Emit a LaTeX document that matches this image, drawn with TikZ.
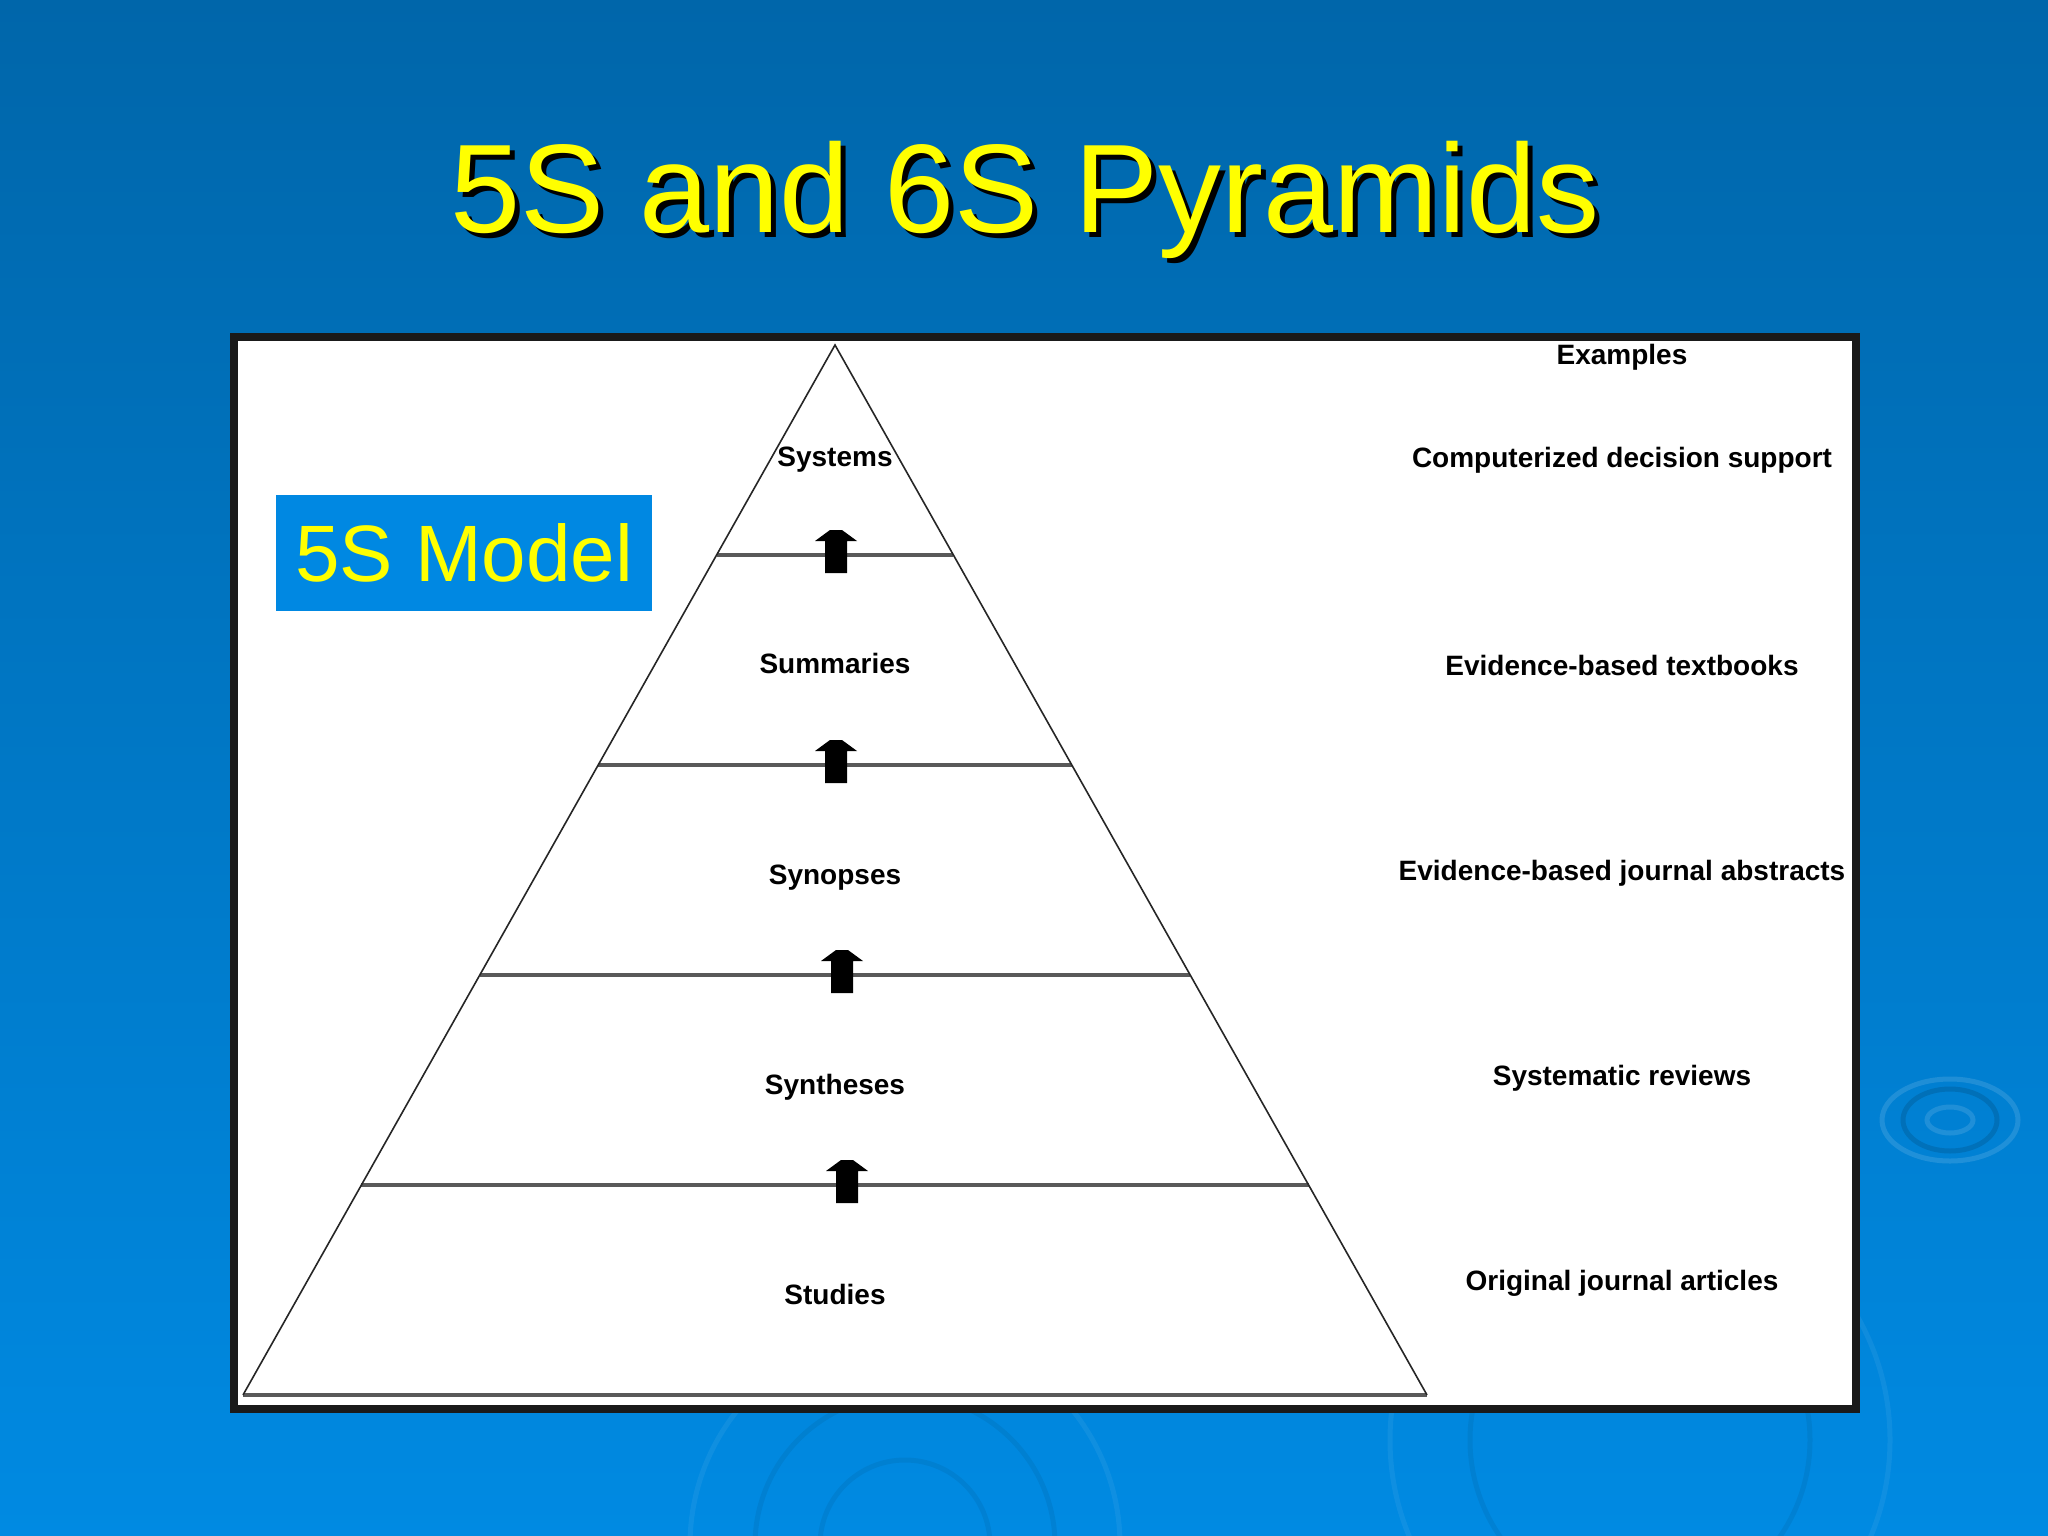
\documentclass[tikz,border=0pt]{standalone}
\usepackage{fontspec}
\setmainfont{Liberation Sans}
\usetikzlibrary{calc}

\definecolor{slidetop}{RGB}{0,102,170}
\definecolor{slidebottom}{RGB}{0,138,226}
\definecolor{modelblue}{RGB}{0,136,226}
\definecolor{titleyellow}{RGB}{255,255,0}
\definecolor{framegray}{RGB}{26,26,26}

\begin{document}
\begin{tikzpicture}[x=1pt,y=-1pt,>=stealth]
	
	\tikzset{
		slidetitle/.style={font=\fontsize{126}{140}\selectfont,anchor=base,inner sep=0pt},
		modelbox/.style={fill=modelblue,text=titleyellow,font=\fontsize{80}{96}\selectfont,
			minimum width=376pt,minimum height=116pt,inner sep=0pt},
		levelname/.style={font=\bfseries\fontsize{28}{34}\selectfont,anchor=base,inner sep=0pt},
		example/.style={font=\bfseries\fontsize{28}{34}\selectfont,anchor=base,inner sep=0pt},
		side/.style={line width=1.6pt,black!85},
		divider/.style={line width=3.5pt,black!65},
		ripple/.style={line width=5pt,draw opacity=0.06},
	}
	
	% Macro: black block arrow pointing up across a divider
	% Arguments: x, y of the divider
	\newcommand{\UpArrow}[2]{%
		\fill[black] (#1-11,#2+18) -- (#1-11,#2-14) -- (#1-21,#2-14) -- (#1-6,#2-25)
		-- (#1+6,#2-25) -- (#1+21,#2-14) -- (#1+11,#2-14) -- (#1+11,#2+18) -- cycle;
	}
	
	\useasboundingbox (0,0) rectangle (2048,1536);
	
	%========================================
	% Slide background and ripples
	%========================================
	\shade[top color=slidetop,bottom color=slidebottom] (0,0) rectangle (2048,1536);
	
	\draw[ripple,white,draw opacity=0.12] (1950,1120) ellipse (23 and 13);
	\draw[ripple,black,draw opacity=0.12] (1950,1120) ellipse (47 and 31);
	\draw[ripple,white,draw opacity=0.12] (1950,1120) ellipse (68 and 41);
	
	\draw[ripple,black] (905,1545) circle (85);
	\draw[ripple,black] (905,1545) circle (150);
	\draw[ripple,white] (905,1545) circle (215);
	\draw[ripple,black] (1640,1440) circle (170);
	\draw[ripple,white] (1640,1440) circle (250);
	
	%========================================
	% Title
	%========================================
	\node[slidetitle,text=black] (titleshadow) at (1030,237) {5S and 6S Pyramids};
	\node[slidetitle,text=titleyellow] (title) at (1025,232) {5S and 6S Pyramids};
	
	%========================================
	% White panel
	%========================================
	\draw[framegray,line width=8pt,fill=white] (234,337) rectangle (1856,1409);
	
	%========================================
	% Pyramid
	%========================================
	\coordinate (apex) at (835,345);
	\coordinate (BL) at (243,1395);
	\coordinate (BR) at (1427,1395);
	
	% Dividers between the five levels
	\coordinate (L1) at ($(apex)!0.2!(BL)$);  \coordinate (R1) at ($(apex)!0.2!(BR)$);
	\coordinate (L2) at ($(apex)!0.4!(BL)$);  \coordinate (R2) at ($(apex)!0.4!(BR)$);
	\coordinate (L3) at ($(apex)!0.6!(BL)$);  \coordinate (R3) at ($(apex)!0.6!(BR)$);
	\coordinate (L4) at ($(apex)!0.8!(BL)$);  \coordinate (R4) at ($(apex)!0.8!(BR)$);
	
	\draw[divider] (L1) -- (R1);
	\draw[divider] (L2) -- (R2);
	\draw[divider] (L3) -- (R3);
	\draw[divider] (L4) -- (R4);
	\draw[divider] (BL) -- (BR);
	\draw[side] (BL) -- (apex) -- (BR);
	
	% Arrows: each level rests on the one below
	\UpArrow{836}{555}
	\UpArrow{836}{765}
	\UpArrow{842}{975}
	\UpArrow{847}{1185}
	
	% Level names
	\node[levelname] (systems)   at (835,466)  {Systems};
	\node[levelname] (summaries) at (835,673)  {Summaries};
	\node[levelname] (synopses)  at (835,884)  {Synopses};
	\node[levelname] (syntheses) at (835,1094) {Syntheses};
	\node[levelname] (studies)   at (835,1304) {Studies};
	
	%========================================
	% Examples column
	%========================================
	\node[example] (examples)   at (1622,364)  {Examples};
	\node[example] (exsystems)  at (1622,467)  {Computerized decision support};
	\node[example] (exsummary)  at (1622,675)  {Evidence-based textbooks};
	\node[example] (exsynopses) at (1622,880)  {Evidence-based journal abstracts};
	\node[example] (exsynth)    at (1622,1085) {Systematic reviews};
	\node[example] (exstudies)  at (1622,1290) {Original journal articles};
	
	% Model label
	\node[modelbox] (model) at (464,553) {5S Model};
	
\end{tikzpicture}
\end{document}
